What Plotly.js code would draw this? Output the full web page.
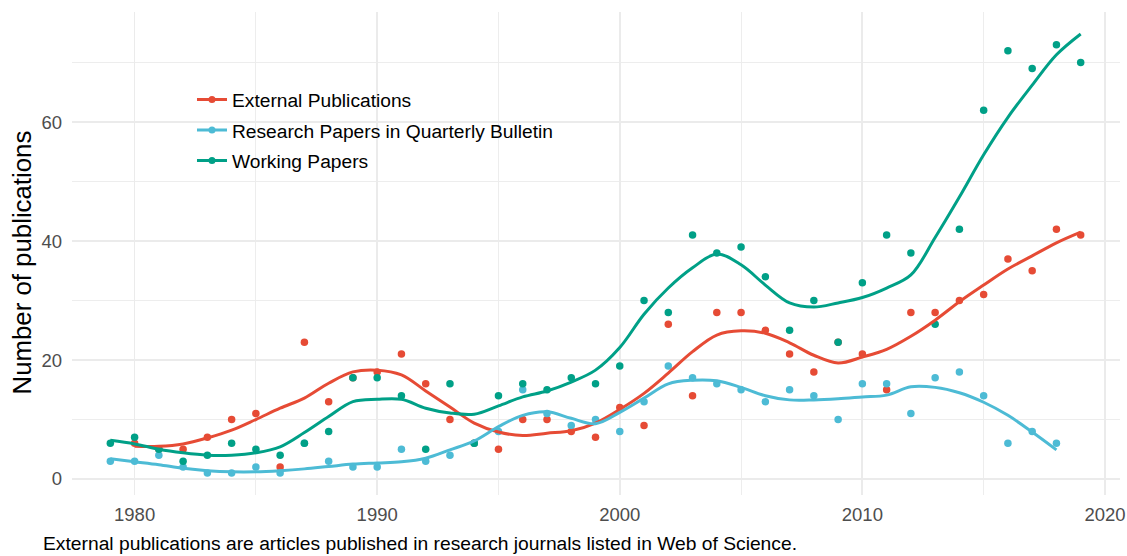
<!DOCTYPE html>
<html>
<head>
<meta charset="utf-8">
<script src="https://cdn.plot.ly/plotly-3.0.1.min.js"></script>
<style>html,body{margin:0;padding:0;background:#fff;}#chart{width:1127px;height:556px;}</style>
</head>
<body>
<div id="chart"></div>
<script>
const years = [1979,1980,1981,1982,1983,1984,1985,1986,1987,1988,1989,1990,1991,1992,1993,1994,1995,1996,1997,1998,1999,2000,2001,2002,2003,2004,2005,2006,2007,2008,2009,2010,2011,2012,2013,2014,2015,2016,2017,2018,2019];

const seriesNames = ["External Publications", "Research Papers in Quarterly Bulletin", "Working Papers"];

const externalPubs = [null,6,5,5,7,10,11,2,23,13,17,18,21,16,10,6,5,10,10,8,7,12,9,26,14,28,28,25,21,18,23,21,15,28,28,30,31,37,35,42,41];
const bulletinPapers = [3,3,4,2,1,1,2,1,6,3,2,2,5,3,4,6,8,15,11,9,10,8,13,19,17,16,15,13,15,14,10,16,16,11,17,18,14,6,8,6,null];
const workingPapers = [6,7,5,3,4,6,5,4,6,8,17,17,14,5,16,6,14,16,15,17,16,19,30,28,41,38,39,34,25,30,23,33,41,38,26,42,62,72,69,73,70];

// smoothed trend lines
const fitExternal = [null,5.5,5.5,5.9,6.9,8.2,10.0,11.9,13.6,16.1,18.0,18.3,17.5,14.8,12.1,9.4,7.9,7.3,7.7,8.1,9.4,11.7,14.4,17.8,21.4,24.2,24.9,24.5,22.9,20.8,19.5,20.5,21.8,24.0,26.7,29.8,32.6,35.3,37.5,39.7,41.5];
const fitBulletin = [3.4,2.9,2.4,1.8,1.4,1.2,1.2,1.4,1.7,2.1,2.5,2.7,2.9,3.5,4.9,6.4,8.8,10.7,11.3,10.2,9.3,11.2,13.6,16.0,16.6,16.5,15.4,14.0,13.3,13.3,13.5,13.8,14.1,15.5,15.4,14.5,12.9,10.7,7.9,4.9,null];
const fitWorking = [6.5,5.9,5.0,4.4,4.0,4.0,4.4,5.4,7.8,10.5,13.0,13.4,13.4,11.9,11.1,10.9,12.3,13.8,14.8,16.3,18.3,22.1,27.7,32.1,35.5,37.8,36.0,32.6,29.6,28.9,29.6,30.5,32.1,34.3,40.6,47.4,54.5,60.8,66.2,71.3,74.8];

const xTicks = [1980,1990,2000,2010,2020];
const yTicks = [0,20,40,60];
const yTitle = "Number of publications";
const caption = "External publications are articles published in research journals listed in Web of Science.";

const colors = ["#E64B35", "#4DBBD5", "#00A087"];
const pointData = [externalPubs, bulletinPapers, workingPapers];
const fitData = [fitExternal, fitBulletin, fitWorking];

const traces = [];
for (let i = 0; i < 3; i++) {
  traces.push({
    type: "scatter", mode: "markers", x: years, y: pointData[i],
    marker: {color: colors[i], size: 7.5}, showlegend: false, hoverinfo: "x+y", name: seriesNames[i]
  });
}
for (let i = 0; i < 3; i++) {
  traces.push({
    type: "scatter", mode: "lines", x: years, y: fitData[i],
    line: {color: colors[i], width: 3, shape: "spline", smoothing: 1},
    connectgaps: false, showlegend: false, hoverinfo: "skip", name: seriesNames[i]
  });
}
for (let i = 0; i < 3; i++) {
  traces.push({
    type: "scatter", mode: "lines+markers", x: [null], y: [null],
    line: {color: colors[i], width: 3}, marker: {color: colors[i], size: 7},
    name: seriesNames[i], legendgroup: "g" + i, showlegend: true
  });
}

const gridCol = "#EBEBEB";
const layout = {
  width: 1127, height: 556,
  margin: {l: 72, r: 7, t: 12, b: 61},
  paper_bgcolor: "#ffffff", plot_bgcolor: "#ffffff",
  font: {family: "Liberation Sans, Arial, sans-serif", size: 19, color: "#000000"},
  xaxis: {
    range: [1977.42, 2020.62], tickvals: xTicks, ticktext: xTicks.map(String),
    showgrid: true, gridcolor: gridCol, gridwidth: 1.8, zeroline: false, showline: false,
    ticks: "", ticklabelstandoff: 6,
    tickfont: {size: 18.5, color: "#4D4D4D"},
    minor: {dtick: 5, tick0: 1975, showgrid: true, gridcolor: gridCol, gridwidth: 0.9, ticks: ""}
  },
  yaxis: {
    range: [-2.69, 78.5], tickvals: yTicks, ticktext: yTicks.map(String),
    showgrid: true, gridcolor: gridCol, gridwidth: 1.8, zeroline: false, showline: false,
    ticks: "", ticklabelstandoff: 9,
    tickfont: {size: 18.5, color: "#4D4D4D"},
    minor: {dtick: 10, tick0: 0, showgrid: true, gridcolor: gridCol, gridwidth: 0.9, ticks: ""}
  },
  legend: {
    x: 0.1145, y: 0.858, xanchor: "left", yanchor: "top",
    bgcolor: "rgba(255,255,255,0)", font: {size: 19.2, color: "#000000"},
    tracegroupgap: 2.5, itemwidth: 30
  },
  annotations: [
    {
      text: yTitle, xref: "paper", yref: "paper", x: -0.0477, y: 0.4814,
      xanchor: "center", yanchor: "middle", textangle: -90, showarrow: false,
      font: {size: 25.8, color: "#000000"}
    },
    {
      text: caption, xref: "paper", yref: "paper", x: -0.0296, y: -0.1014,
      xanchor: "left", yanchor: "middle", showarrow: false,
      font: {size: 19.25, color: "#000000"}
    }
  ],
  showlegend: true
};

Plotly.newPlot("chart", traces, layout, {staticPlot: true});
</script>
</body>
</html>
